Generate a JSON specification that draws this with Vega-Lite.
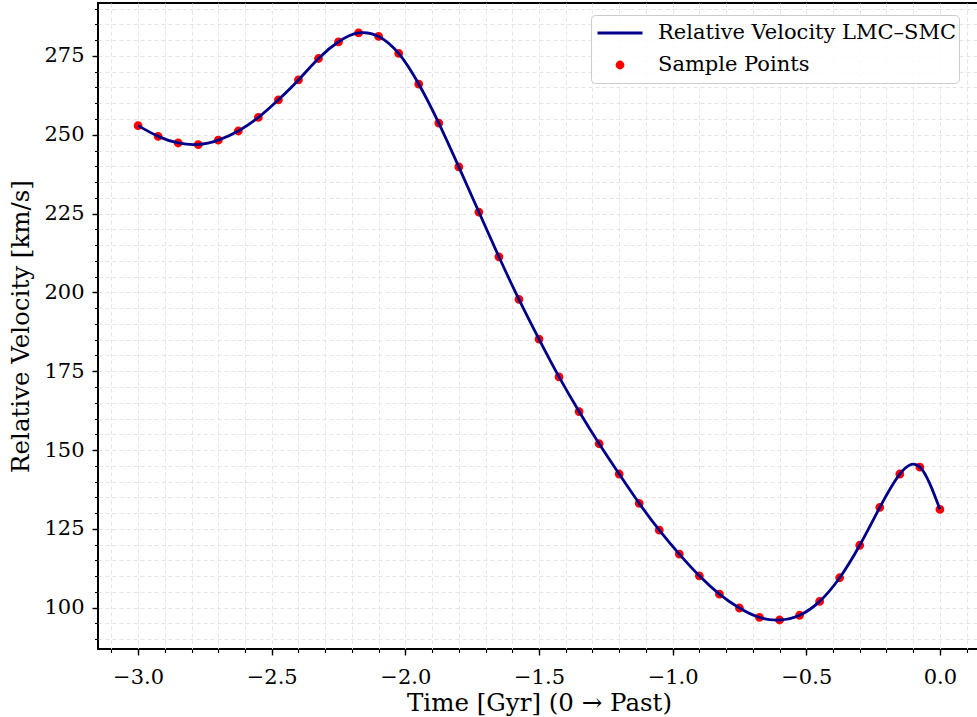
{
  "$schema": "https://vega.github.io/schema/vega-lite/v6.json",
  "autosize": {"type": "none"},
  "width": 882,
  "height": 646,
  "padding": {"left": 98, "top": 3, "right": 0, "bottom": 68},
  "background": "white",
  "config": {
    "font": "DejaVu Serif",
    "view": {"stroke": "black", "strokeWidth": 2},
    "axis": {"labelFont": "DejaVu Serif", "titleFont": "DejaVu Serif", "labelColor": "black", "titleColor": "black", "titleFontWeight": "normal", "tickColor": "black"},
    "legend": {"labelFont": "DejaVu Serif", "symbolStrokeWidth": 2.8, "symbolOpacity": 1}
  },
  "data": {
    "values": [
      {"t": -3.0, "v": 252.9}, {"t": -2.925, "v": 249.5}, {"t": -2.85, "v": 247.4}, {"t": -2.775, "v": 246.9},
      {"t": -2.7, "v": 248.3}, {"t": -2.625, "v": 251.2}, {"t": -2.55, "v": 255.5}, {"t": -2.475, "v": 261.1},
      {"t": -2.4, "v": 267.4}, {"t": -2.325, "v": 274.2}, {"t": -2.25, "v": 279.5}, {"t": -2.175, "v": 282.3},
      {"t": -2.1, "v": 281.2}, {"t": -2.025, "v": 275.8}, {"t": -1.95, "v": 266.1}, {"t": -1.875, "v": 253.7},
      {"t": -1.8, "v": 239.8}, {"t": -1.725, "v": 225.5}, {"t": -1.65, "v": 211.3}, {"t": -1.575, "v": 197.8},
      {"t": -1.5, "v": 185.2}, {"t": -1.425, "v": 173.2}, {"t": -1.35, "v": 162.2}, {"t": -1.275, "v": 152.0},
      {"t": -1.2, "v": 142.4}, {"t": -1.125, "v": 133.1}, {"t": -1.05, "v": 124.6}, {"t": -0.975, "v": 117.0},
      {"t": -0.9, "v": 110.1}, {"t": -0.825, "v": 104.3}, {"t": -0.75, "v": 99.9}, {"t": -0.675, "v": 96.9},
      {"t": -0.6, "v": 96.1}, {"t": -0.525, "v": 97.6}, {"t": -0.45, "v": 102.0}, {"t": -0.375, "v": 109.5},
      {"t": -0.3, "v": 119.8}, {"t": -0.225, "v": 131.8}, {"t": -0.15, "v": 142.4}, {"t": -0.075, "v": 144.6},
      {"t": 0.0, "v": 131.2}
    ]
  },
  "layer": [
    {
      "mark": {"type": "point", "filled": true, "opacity": 1, "stroke": "red", "strokeWidth": 2.8},
      "encoding": {
        "x": {"field": "t", "type": "quantitative", "scale": {"domain": [-3.15, 0.15], "nice": false, "zero": false},
          "axis": {"orient": "bottom", "values": [-3.0, -2.5, -2.0, -1.5, -1.0, -0.5, 0.0], "format": ".1f", "labelFontSize": 21, "tickSize": 6, "tickWidth": 1.4, "labelPadding": 11, "domain": false, "grid": false, "title": "Time [Gyr] (0 → Past)", "titleFontSize": 24.5, "titlePadding": 4}},
        "y": {"field": "v", "type": "quantitative", "scale": {"domain": [86.9, 291.8], "nice": false, "zero": false},
          "axis": {"orient": "left", "values": [100, 125, 150, 175, 200, 225, 250, 275], "labelFontSize": 21, "tickSize": 6, "tickWidth": 1.4, "labelPadding": 8, "domain": false, "grid": false, "title": "Relative Velocity [km/s]", "titleFontSize": 24.5, "titlePadding": 10}},
        "color": {"datum": "Sample Points", "type": "nominal",
          "scale": {"domain": ["Relative Velocity LMC–SMC", "Sample Points"], "range": ["#00008b", "red"]},
          "legend": {"title": null, "orient": "none", "legendX": 493, "legendY": 12, "labelFontSize": 21, "labelLimit": 600, "labelOffset": 14, "symbolOffset": 3, "rowPadding": 0, "padding": 2, "clipHeight": 32, "fillColor": "rgba(255,255,255,0.85)", "strokeColor": "#cccccc", "cornerRadius": 4}},
        "shape": {"datum": "Sample Points", "type": "nominal",
          "scale": {"domain": ["Relative Velocity LMC–SMC", "Sample Points"], "range": ["stroke", "circle"]},
          "legend": {"title": null, "orient": "none", "legendX": 493, "legendY": 12, "labelFontSize": 21, "labelLimit": 600, "labelOffset": 14, "symbolOffset": 3, "rowPadding": 0, "padding": 2, "clipHeight": 32, "fillColor": "rgba(255,255,255,0.85)", "strokeColor": "#cccccc", "cornerRadius": 4}},
        "size": {"datum": "Sample Points", "type": "nominal",
          "scale": {"type": "ordinal", "domain": ["Relative Velocity LMC–SMC", "Sample Points"], "range": [2025, 36]},
          "legend": {"title": null, "orient": "none", "legendX": 493, "legendY": 12, "labelFontSize": 21, "labelLimit": 600, "labelOffset": 14, "symbolOffset": 3, "rowPadding": 0, "padding": 2, "clipHeight": 32, "fillColor": "rgba(255,255,255,0.85)", "strokeColor": "#cccccc", "cornerRadius": 4}}
      }
    },
    {
      "mark": {"type": "line", "interpolate": "natural", "strokeWidth": 2.8},
      "encoding": {
        "x": {"field": "t", "type": "quantitative",
          "axis": {"orient": "bottom", "values": [-3.1, -3.0, -2.9, -2.8, -2.7, -2.6, -2.5, -2.4, -2.3, -2.2, -2.1, -2.0, -1.9, -1.8, -1.7, -1.6, -1.5, -1.4, -1.3, -1.2, -1.1, -1.0, -0.9, -0.8, -0.7, -0.6, -0.5, -0.4, -0.3, -0.2, -0.1, 0.0, 0.1], "labels": false, "tickSize": 3.5, "tickWidth": 1.1, "domain": false, "grid": true, "gridColor": "#e2e2e2", "gridDash": [4, 3], "gridWidth": 0.9, "title": null}},
        "y": {"field": "v", "type": "quantitative",
          "axis": {"orient": "left", "values": [90, 95, 100, 105, 110, 115, 120, 125, 130, 135, 140, 145, 150, 155, 160, 165, 170, 175, 180, 185, 190, 195, 200, 205, 210, 215, 220, 225, 230, 235, 240, 245, 250, 255, 260, 265, 270, 275, 280, 285, 290], "labels": false, "tickSize": 3.5, "tickWidth": 1.1, "domain": false, "grid": true, "gridColor": "#e2e2e2", "gridDash": [4, 3], "gridWidth": 0.9, "title": null}},
        "color": {"datum": "Relative Velocity LMC–SMC", "type": "nominal"}
      }
    }
  ],
  "resolve": {"axis": {"x": "independent", "y": "independent"}}
}
